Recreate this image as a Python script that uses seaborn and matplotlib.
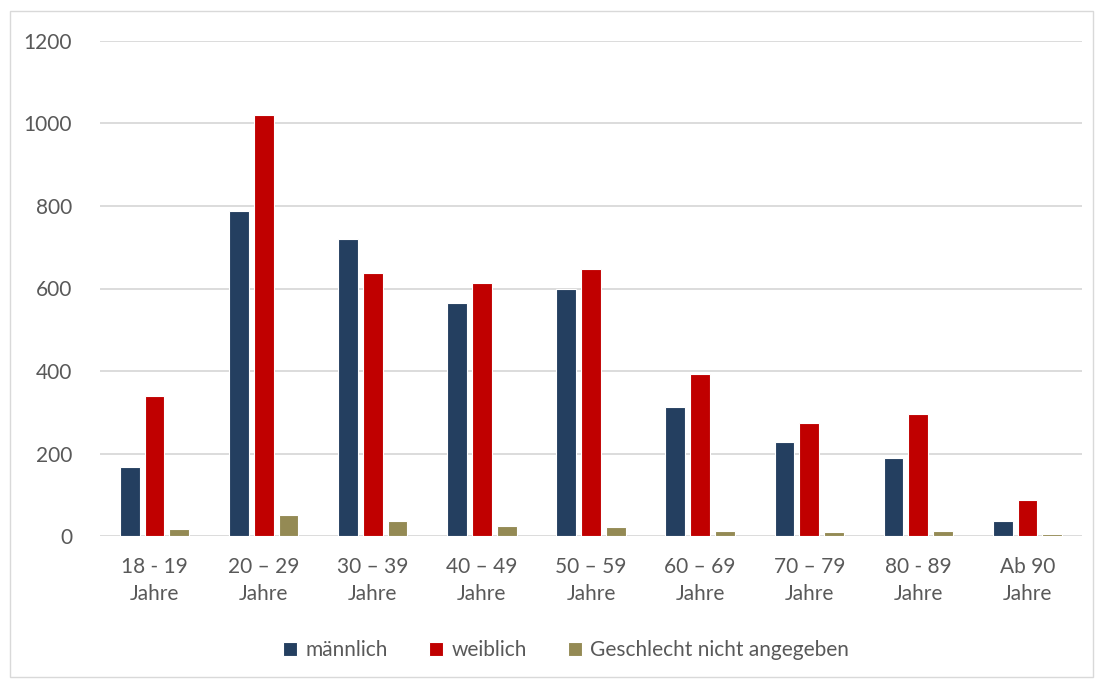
import matplotlib
matplotlib.use("Agg")
import matplotlib.pyplot as plt
from matplotlib.patches import Rectangle
import seaborn as sns
import pandas as pd

# Altersgruppen und Anzahl je Geschlecht
altersgruppen = ["18 - 19\nJahre", "20 – 29\nJahre", "30 – 39\nJahre", "40 – 49\nJahre",
                 "50 – 59\nJahre", "60 – 69\nJahre", "70 – 79\nJahre", "80 - 89\nJahre",
                 "Ab 90\nJahre"]
maennlich = [167, 788, 720, 566, 599, 312, 229, 188, 37]
weiblich = [339, 1020, 638, 613, 648, 392, 273, 295, 87]
nicht_angegeben = [18, 50, 36, 25, 22, 11, 9, 13, 5]
serien = ["männlich", "weiblich", "Geschlecht nicht angegeben"]
farben = ["#243F60", "#C00000", "#948A54"]

df = pd.DataFrame({
    "Altersgruppe": altersgruppen * 3,
    "Geschlecht": [serien[0]] * 9 + [serien[1]] * 9 + [serien[2]] * 9,
    "Anzahl": maennlich + weiblich + nicht_angegeben,
})

sns.set_theme(style="white")
plt.rcParams["font.family"] = ["Lato", "DejaVu Sans"]
textfarbe = "#595959"

fig = plt.figure(figsize=(10.96, 6.8), dpi=100)
ax = fig.add_axes([100 / 1096, 1 - 536 / 680, 982 / 1096, 495 / 680])

sns.barplot(data=df, x="Altersgruppe", y="Anzahl", hue="Geschlecht",
            hue_order=serien, palette=farben, saturation=1, width=0.68, gap=0.2,
            edgecolor="white", linewidth=0.8, ax=ax, legend=True)

ax.set_ylim(0, 1200)
ax.set_yticks(range(0, 1201, 200))
ax.yaxis.grid(True, color="#D9D9D9", linewidth=1.3)
ax.set_axisbelow(True)
for s in ax.spines.values():
    s.set_visible(False)
ax.set_xlabel("")
ax.set_ylabel("")
ax.tick_params(axis="both", length=0, labelsize=15, colors=textfarbe)
ax.tick_params(axis="y", pad=20)
ax.tick_params(axis="x", pad=15)
for lbl in ax.get_xticklabels():
    lbl.set_linespacing(1.45)

leg = ax.legend(loc="upper center", bbox_to_anchor=(0.5 - 25 / 982, -0.173), ncol=3,
                frameon=False, fontsize=15, handlelength=0.7, handleheight=0.7,
                handletextpad=0.4, columnspacing=1.95)
for t in leg.get_texts():
    t.set_color(textfarbe)

# Rahmen um die gesamte Grafik
fig.patches.append(Rectangle((10 / 1096, 3 / 680), 1083 / 1096, 666 / 680,
                             transform=fig.transFigure, fill=False,
                             edgecolor="#D9D9D9", linewidth=1.0))

fig.savefig("out.png", dpi=100)
